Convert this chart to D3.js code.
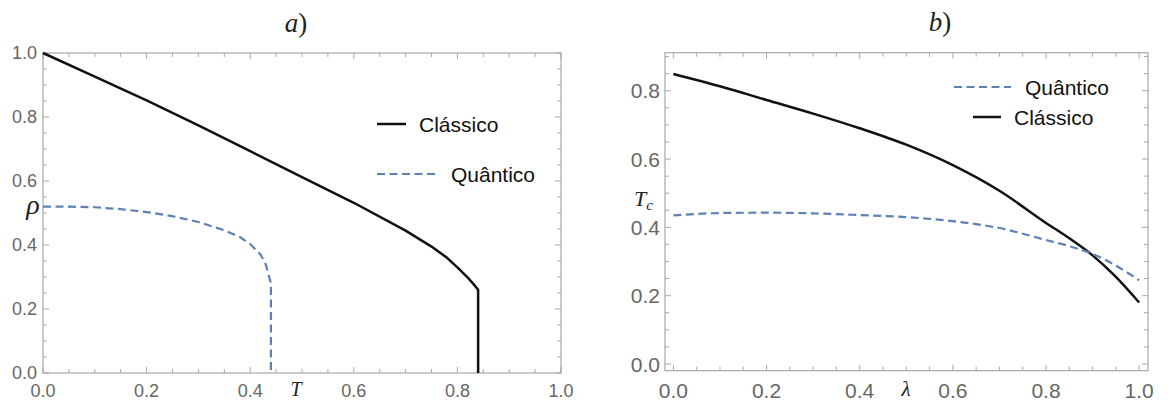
<!DOCTYPE html>
<html lang="en">
<head>
<meta charset="UTF-8">
<title>Clássico vs Quântico</title>
<script src="https://d3js.org/d3.v7.min.js"></script>
<style>
  body { margin: 0; background: #fff; }
  .tick-label { font-family: "Liberation Sans", Arial, sans-serif; fill: #666; }
  .math { font-family: "Liberation Serif", "DejaVu Serif", serif; fill: #222; }
  .legend { font-family: "Liberation Sans", Arial, sans-serif; font-size: 21px; fill: #111; }
</style>
</head>
<body>
<svg id="chart" width="1176" height="405"></svg>
<script>
// panel a: density rho vs T
const aClassicT   = [0, 0.1, 0.2, 0.3, 0.4, 0.5, 0.6, 0.7, 0.75, 0.78, 0.8, 0.82, 0.83, 0.84, 0.84];
const aClassicRho = [1.0, 0.926, 0.852, 0.774, 0.693, 0.612, 0.532, 0.445, 0.395, 0.36, 0.33, 0.298, 0.28, 0.26, 0];
const aQuantumT   = [0, 0.05, 0.1, 0.15, 0.2, 0.25, 0.3, 0.35, 0.38, 0.4, 0.42, 0.43, 0.435, 0.44, 0.44];
const aQuantumRho = [0.52, 0.52, 0.518, 0.512, 0.503, 0.49, 0.472, 0.446, 0.425, 0.403, 0.37, 0.34, 0.31, 0.28, 0];

// panel b: Tc vs lambda
const bLambda  = [0, 0.1, 0.2, 0.3, 0.4, 0.5, 0.6, 0.7, 0.8, 0.85, 0.9, 0.95, 1.0];
const bClassic = [0.849, 0.813, 0.773, 0.733, 0.69, 0.642, 0.582, 0.507, 0.413, 0.368, 0.318, 0.255, 0.18];
const bQuantum = [0.435, 0.442, 0.443, 0.441, 0.436, 0.43, 0.418, 0.398, 0.363, 0.345, 0.322, 0.288, 0.245];

const majorTicks = [0, 0.2, 0.4, 0.6, 0.8, 1.0];
const minorTicks = d3.range(0, 1.0001, 0.05);

const blue = "#5e81b5";
const svg = d3.select("#chart");

function zip(xs, ys) { return xs.map((x, i) => [x, ys[i]]); }

function drawPanel(opt) {
  const { x, y, yTicks, labelSize } = opt;
  const g = svg.append("g");
  const [x0, x1] = x.range();
  const [y0, y1] = y.range();

  // frame
  g.append("rect")
    .attr("x", x0).attr("y", y1)
    .attr("width", x1 - x0).attr("height", y0 - y1)
    .attr("fill", "none").attr("stroke", "#a8a8a8").attr("stroke-width", 1.2);

  const tickG = g.append("g").attr("stroke", "#a8a8a8").attr("stroke-width", 1);
  const isMajor = (v, list) => list.some(m => Math.abs(m - v) < 1e-6);

  // x ticks, top and bottom
  minorTicks.forEach(v => {
    const len = isMajor(v, majorTicks) ? 6 : 4;
    const px = x(v);
    tickG.append("line").attr("x1", px).attr("x2", px).attr("y1", y0).attr("y2", y0 - len);
    tickG.append("line").attr("x1", px).attr("x2", px).attr("y1", y1).attr("y2", y1 + len);
  });
  // y ticks, left and right
  const yMinor = minorTicks.filter(v => v <= y.domain()[1]);
  yMinor.forEach(v => {
    const len = isMajor(v, yTicks) ? 6 : 4;
    const py = y(v);
    tickG.append("line").attr("y1", py).attr("y2", py).attr("x1", x0).attr("x2", x0 + len);
    tickG.append("line").attr("y1", py).attr("y2", py).attr("x1", x1).attr("x2", x1 - len);
  });

  // tick labels
  g.selectAll(null).data(majorTicks).enter().append("text")
    .attr("class", "tick-label")
    .attr("x", d => x(d)).attr("y", opt.xLabelY)
    .attr("text-anchor", "middle")
    .style("font-size", labelSize + "px")
    .text(d => d.toFixed(1));
  g.selectAll(null).data(yTicks).enter().append("text")
    .attr("class", "tick-label")
    .attr("x", x0 - opt.yLabelGap).attr("y", d => y(d))
    .attr("dy", "0.36em")
    .attr("text-anchor", "end")
    .style("font-size", labelSize + "px")
    .text(d => d.toFixed(1));

  // curves
  const line = d3.line().x(d => x(d[0])).y(d => y(d[1])).curve(opt.curve);
  opt.series.forEach(s => {
    g.append("path")
      .datum(s.data)
      .attr("d", line)
      .attr("fill", "none")
      .attr("stroke", s.color)
      .attr("stroke-width", s.dashed ? 2.2 : 2.5)
      .attr("stroke-dasharray", s.dashed ? "8,4.5" : null)
      .attr("stroke-linejoin", "round");
  });

  // legend
  opt.legend.forEach(l => {
    g.append("line")
      .attr("x1", l.x1).attr("x2", l.x2).attr("y1", l.y).attr("y2", l.y)
      .attr("stroke", l.color).attr("stroke-width", l.dashed ? 2.2 : 2.5)
      .attr("stroke-dasharray", l.dashed ? "8,4.5" : null);
    g.append("text").attr("class", "legend")
      .attr("x", l.tx).attr("y", l.y + 7.5)
      .text(l.label);
  });
  return g;
}

// panel a
const xa = d3.scaleLinear().domain([0, 1]).range([43, 561]);
const ya = d3.scaleLinear().domain([0, 1]).range([373, 53]);
const ga = drawPanel({
  x: xa, y: ya, yTicks: majorTicks, labelSize: 18,
  xLabelY: 397, yLabelGap: 6, curve: d3.curveLinear,
  series: [
    { data: zip(aClassicT, aClassicRho), color: "#111", dashed: false },
    { data: zip(aQuantumT, aQuantumRho), color: blue, dashed: true }
  ],
  legend: [
    { label: "Clássico", color: "#111", dashed: false, x1: 377, x2: 406, y: 124, tx: 419 },
    { label: "Quântico", color: blue, dashed: true, x1: 377, x2: 435, y: 174, tx: 451 }
  ]
});
ga.append("text").attr("class", "math").attr("x", 33).attr("y", 214)
  .attr("text-anchor", "middle").style("font-size", "28px").style("font-style", "italic").text("ρ");
ga.append("text").attr("class", "math").attr("x", 296).attr("y", 396)
  .attr("text-anchor", "middle").style("font-size", "20px").style("font-style", "italic").text("T");
const ta = ga.append("text").attr("class", "math").attr("x", 296).attr("y", 32)
  .attr("text-anchor", "middle").style("font-size", "27px");
ta.append("tspan").style("font-style", "italic").text("a");
ta.append("tspan").text(")");

// panel b
const xb = d3.scaleLinear().domain([-0.018, 1.019]).range([665, 1148]);
const yb = d3.scaleLinear().domain([-0.0196, 0.9113]).range([370.7, 52.7]);
const gb = drawPanel({
  x: xb, y: yb, yTicks: [0, 0.2, 0.4, 0.6, 0.8], labelSize: 21,
  xLabelY: 398, yLabelGap: 5, curve: d3.curveMonotoneX,
  series: [
    { data: zip(bLambda, bClassic), color: "#111", dashed: false },
    { data: zip(bLambda, bQuantum), color: blue, dashed: true }
  ],
  legend: [
    { label: "Quântico", color: blue, dashed: true, x1: 954, x2: 1011, y: 87, tx: 1025 },
    { label: "Clássico", color: "#111", dashed: false, x1: 973, x2: 1001, y: 117, tx: 1014 }
  ]
});
const tc = gb.append("text").attr("class", "math").attr("x", 634).attr("y", 206)
  .style("font-size", "22px").style("font-style", "italic");
tc.append("tspan").text("T");
tc.append("tspan").attr("dy", 4).style("font-size", "15px").text("c");
gb.append("text").attr("class", "math").attr("x", 906).attr("y", 396)
  .attr("text-anchor", "middle").style("font-size", "21px").style("font-style", "italic").text("λ");
const tb = gb.append("text").attr("class", "math").attr("x", 940).attr("y", 31)
  .attr("text-anchor", "middle").style("font-size", "27px");
tb.append("tspan").style("font-style", "italic").text("b");
tb.append("tspan").text(")");
</script>
</body>
</html>
